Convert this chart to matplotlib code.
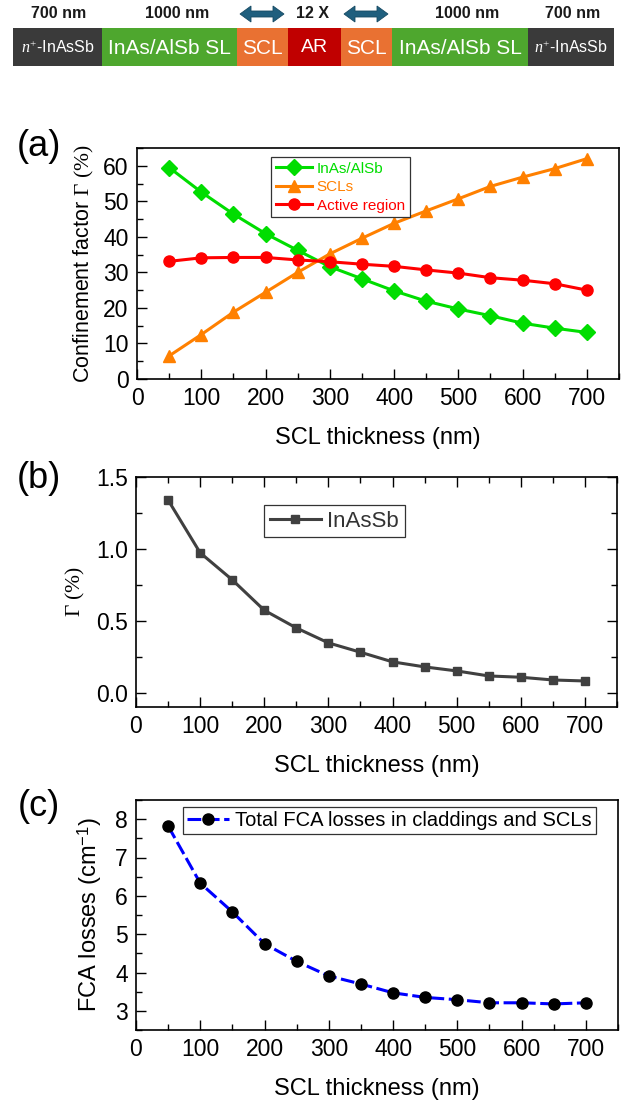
import matplotlib
matplotlib.use("Agg")
import matplotlib.pyplot as plt
from matplotlib.patches import Rectangle, Polygon
from matplotlib.ticker import MultipleLocator

plt.rcParams["font.family"] = ["Liberation Sans", "DejaVu Sans"]
plt.rcParams["mathtext.fontset"] = "custom"
plt.rcParams["mathtext.rm"] = "Liberation Serif"
plt.rcParams["mathtext.it"] = "Liberation Serif:italic"
plt.rcParams["mathtext.sf"] = "Liberation Sans"

# ── Data ──────────────────────────────────────────────────────────────────────
scl_thickness = [50, 100, 150, 200, 250, 300, 350, 400, 450, 500, 550, 600, 650, 700]

gamma_sl     = [59.5, 52.6, 46.4, 40.9, 36.2, 31.6, 28.2, 24.8, 21.9, 19.7, 17.8, 15.7, 14.3, 13.1]
gamma_scl    = [6.5, 12.5, 18.8, 24.4, 30.0, 35.2, 39.6, 43.8, 47.3, 50.7, 54.2, 56.8, 59.2, 62.0]
gamma_active = [33.1, 34.1, 34.2, 34.2, 33.5, 33.0, 32.3, 31.7, 30.7, 29.8, 28.5, 27.8, 26.8, 25.0]

gamma_inassb = [1.34, 0.973, 0.785, 0.573, 0.45, 0.346, 0.281, 0.214, 0.179, 0.151, 0.116, 0.107, 0.088, 0.081]

fca_losses = [7.82, 6.33, 5.58, 4.75, 4.29, 3.91, 3.70, 3.47, 3.35, 3.29, 3.21, 3.21, 3.18, 3.21]

# layer stack of the waveguide
layer_names  = [r"$n^{+}$-InAsSb", "InAs/AlSb SL", "SCL", "AR", "SCL", "InAs/AlSb SL", r"$n^{+}$-InAsSb"]
layer_colors = ["#3a3a3a", "#4ea72e", "#e97132", "#c00000", "#e97132", "#4ea72e", "#3a3a3a"]
layer_thick  = ["700 nm", "1000 nm", None, "12 X", None, "1000 nm", "700 nm"]

# ── Figure ────────────────────────────────────────────────────────────────────
W, H = 626, 1106
fig = plt.figure(figsize=(W / 100, H / 100), dpi=100)


def px_axes(left, top, right, bottom):
    return fig.add_axes([left / W, 1 - bottom / H, (right - left) / W, (bottom - top) / H])


# schematic of the layer stack
ax0 = fig.add_axes([0, 1 - 100 / H, 1, 100 / H])
ax0.set_xlim(0, W)
ax0.set_ylim(100, 0)
ax0.axis("off")

edges = [13, 102, 237, 288, 341, 392, 528, 614]
bar_top, bar_bot = 28, 66
name_sizes = [11.5, 15, 15, 14, 15, 15, 11.5]
for i, (name, col) in enumerate(zip(layer_names, layer_colors)):
    x0, x1 = edges[i], edges[i + 1]
    ax0.add_patch(Rectangle((x0, bar_top), x1 - x0, bar_bot - bar_top, fc=col, ec="none"))
    ax0.text((x0 + x1) / 2, (bar_top + bar_bot) / 2 + 1, name, color="white",
             fontsize=name_sizes[i], ha="center", va="center")

label_x = [59, 177, None, 313, None, 467, 573]
for lx, txt in zip(label_x, layer_thick):
    if txt is None:
        continue
    ax0.text(lx, 14, txt, fontsize=11.5, fontweight="bold", color="#1a1a1a",
             ha="center", va="center")


def double_arrow(cx, cy, half_len=22, shaft=3, head=8, head_len=11):
    pts = [
        (cx - half_len, cy),
        (cx - half_len + head_len, cy - head),
        (cx - half_len + head_len, cy - shaft),
        (cx + half_len - head_len, cy - shaft),
        (cx + half_len - head_len, cy - head),
        (cx + half_len, cy),
        (cx + half_len - head_len, cy + head),
        (cx + half_len - head_len, cy + shaft),
        (cx - half_len + head_len, cy + shaft),
        (cx - half_len + head_len, cy + head),
    ]
    ax0.add_patch(Polygon(pts, closed=True, fc="#1f5f7e", ec="#174a63", lw=0.6))


double_arrow(262, 14)
double_arrow(366, 14)


def style_axes(ax, mirror=False):
    ax.tick_params(which="both", direction="in", labelsize=16.5, width=1,
                   top=mirror, right=mirror, pad=6)
    ax.tick_params(which="major", length=7)
    ax.tick_params(which="minor", length=4)
    ax.xaxis.set_major_locator(MultipleLocator(100))
    ax.xaxis.set_minor_locator(MultipleLocator(50))
    ax.set_xlim(0, 750)
    for s in ax.spines.values():
        s.set_linewidth(1.2)
    ax.set_xlabel("SCL thickness (nm)", fontsize=17, labelpad=12)


# ── (a) confinement factors ───────────────────────────────────────────────────
ax1 = px_axes(137, 148, 619, 379)
ax1.plot(scl_thickness, gamma_sl, "-D", color="#00dd00", lw=2.2, ms=8, label="InAs/AlSb")
ax1.plot(scl_thickness, gamma_scl, "-^", color="#ff8000", lw=2.2, ms=9, label="SCLs")
ax1.plot(scl_thickness, gamma_active, "-o", color="#ff0000", lw=2.2, ms=8, label="Active region")
style_axes(ax1)
ax1.set_ylim(0, 65)
ax1.yaxis.set_major_locator(MultipleLocator(10))
ax1.yaxis.set_minor_locator(MultipleLocator(5))
ax1.set_ylabel(r"Confinement factor $\mathrm{\Gamma\ (\%)}$", fontsize=15.5, labelpad=5)
ax1.legend(loc="upper left", bbox_to_anchor=(0.278, 0.961), fontsize=11,
           labelcolor="linecolor", frameon=True, fancybox=False, framealpha=1,
           edgecolor="#333333", borderpad=0.3, borderaxespad=0, labelspacing=0.3,
           handlelength=2.4, handletextpad=0.3).get_frame().set_linewidth(0.9)

# ── (b) InAsSb cladding ───────────────────────────────────────────────────────
ax2 = px_axes(136, 477, 617, 707)
ax2.plot(scl_thickness, gamma_inassb, "-s", color="#404040", lw=2.2, ms=6, label="InAsSb")
style_axes(ax2, mirror=True)
ax2.set_ylim(-0.1, 1.5)
ax2.yaxis.set_major_locator(MultipleLocator(0.5))
ax2.yaxis.set_minor_locator(MultipleLocator(0.25))
ax2.set_ylabel(r"$\mathrm{\Gamma\ (\%)}$", fontsize=15.5, labelpad=6)
leg2 = ax2.legend(loc="upper left", bbox_to_anchor=(0.266, 0.878), fontsize=16,
                  labelcolor="#333333", fancybox=False, framealpha=1, edgecolor="#333333",
                  borderpad=0.25, borderaxespad=0, handlelength=2.3, handletextpad=0.3)
leg2.get_frame().set_linewidth(0.9)

# ── (c) free-carrier absorption ───────────────────────────────────────────────
ax3 = px_axes(136, 800, 618, 1030)
ax3.plot(scl_thickness, fca_losses, color="#0000ff", lw=2.2, ls=(0, (4.5, 1.5)),
         marker="o", ms=8, mfc="black", mec="black", label="Total FCA losses in claddings and SCLs")
style_axes(ax3)
ax3.set_ylim(2.5, 8.5)
ax3.yaxis.set_major_locator(MultipleLocator(1))
ax3.yaxis.set_minor_locator(MultipleLocator(0.5))
ax3.set_ylabel(r"FCA losses (cm$^{\mathsf{-1}}$)", fontsize=17, labelpad=8)
leg3 = ax3.legend(loc="upper left", bbox_to_anchor=(0.0977, 0.970), fontsize=14.5,
                  fancybox=False, framealpha=1, edgecolor="#333333",
                  borderpad=0.2, borderaxespad=0, handlelength=2.1, handletextpad=0.3)
leg3.get_frame().set_linewidth(0.9)

# panel letters
for letter, ypx in [("(a)", 146), ("(b)", 478), ("(c)", 806)]:
    fig.text(39 / W, 1 - ypx / H, letter, fontsize=26, ha="center", va="center")

fig.savefig("out.png", dpi=100)
